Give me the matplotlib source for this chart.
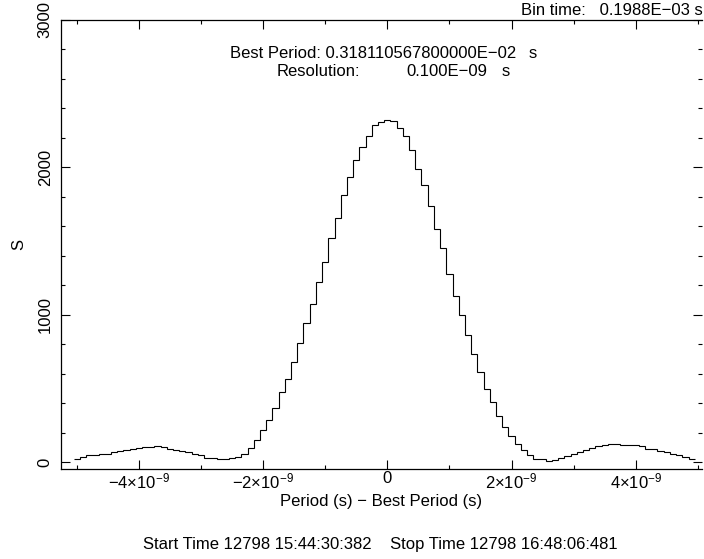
import numpy as np
import matplotlib
matplotlib.use("Agg")
import matplotlib.pyplot as plt
from matplotlib.ticker import MultipleLocator, FixedLocator, FuncFormatter

plt.rcParams['font.family'] = ['Liberation Sans', 'DejaVu Sans']
plt.rcParams['mathtext.fontset'] = 'custom'
plt.rcParams['mathtext.rm'] = 'Liberation Sans'
plt.rcParams['mathtext.it'] = 'Liberation Sans:italic'
plt.rcParams['mathtext.bf'] = 'Liberation Sans:bold'

# period search result: offset from best period (s), chi-square like statistic S
resolution = 0.1e-9
offsets = np.arange(-50, 50) * resolution
s_values = [
    22, 34, 45, 48, 52, 58, 68, 77, 81, 88,
    95, 99, 102, 106, 99, 90, 81, 72, 68, 54,
    45, 31, 27, 22, 24, 27, 33, 55, 95, 147,
    215, 287, 364, 473, 563, 681, 808, 944, 1075, 1219,
    1360, 1520, 1657, 1815, 1933, 2048, 2137, 2215, 2289, 2306,
    2324, 2315, 2270, 2212, 2115, 1990, 1878, 1737, 1583, 1450,
    1273, 1124, 1000, 862, 733, 613, 496, 405, 312, 236,
    175, 120, 82, 50, 22, 20, 9, 16, 27, 38,
    54, 68, 79, 95, 106, 113, 122, 126, 119, 115,
    113, 106, 92, 88, 72, 68, 56, 45, 36, 24,
]
x_ticks = [-4e-9, -2e-9, 0, 2e-9, 4e-9]
y_ticks = [0, 1000, 2000, 3000]

fig = plt.figure(figsize=(7.04, 5.59), dpi=100)
ax = fig.add_axes([61 / 704, 1 - 469 / 559, 641 / 704, 449 / 559])

edges = np.append(offsets - resolution / 2, offsets[-1] + resolution / 2)
ax.stairs(s_values, edges, baseline=None, color='black', lw=0.8)

ax.set_xlim(-5.254e-9, 5.067e-9)
ax.set_ylim(-47, 3000)
ax.spines['right'].set_visible(False)
for sp in ['left', 'bottom', 'top']:
    ax.spines[sp].set_linewidth(0.9)


def xfmt(v, pos):
    m = round(v / 1e-9)
    if m == 0:
        return '0'
    return r'$%d{\times}10^{-9}$' % m


ax.xaxis.set_major_locator(FixedLocator(x_ticks))
ax.xaxis.set_minor_locator(MultipleLocator(1e-9))
ax.xaxis.set_major_formatter(FuncFormatter(xfmt))
ax.yaxis.set_major_locator(FixedLocator(y_ticks))
ax.yaxis.set_minor_locator(MultipleLocator(200))

ax.tick_params(which='both', direction='in', top=True, right=True,
               width=0.8, labelsize=12, colors='black')
ax.tick_params(which='major', length=6.5)
ax.tick_params(which='minor', length=3)
ax.tick_params(axis='x', pad=1.5)
ax.tick_params(axis='y', labelrotation=90, pad=6)
for lab in ax.get_yticklabels():
    lab.set_va('center')

ax.set_xlabel('Period (s) \u2212 Best Period (s)', fontsize=12, labelpad=2)
ax.set_ylabel('S', fontsize=12, labelpad=8)

fig.text(703 / 704, 1 - 15 / 559, 'Bin time:   0.1988E\u221203 s',
         ha='right', va='baseline', fontsize=12)
fig.text(230 / 704, 1 - 58 / 559, 'Best Period: 0.318110567800000E\u221202',
         ha='left', va='baseline', fontsize=12)
fig.text(537 / 704, 1 - 58 / 559, 's', ha='right', va='baseline', fontsize=12)
fig.text(277 / 704, 1 - 76 / 559, 'Resolution:', ha='left', va='baseline', fontsize=12)
fig.text(487 / 704, 1 - 76 / 559, '0.100E\u221209', ha='right', va='baseline', fontsize=12)
fig.text(510 / 704, 1 - 76 / 559, 's', ha='right', va='baseline', fontsize=12)
fig.text(380 / 704, 1 - 549 / 559,
         'Start Time 12798 15:44:30:382    Stop Time 12798 16:48:06:481',
         ha='center', va='baseline', fontsize=12)

fig.savefig('out.png', dpi=100)
